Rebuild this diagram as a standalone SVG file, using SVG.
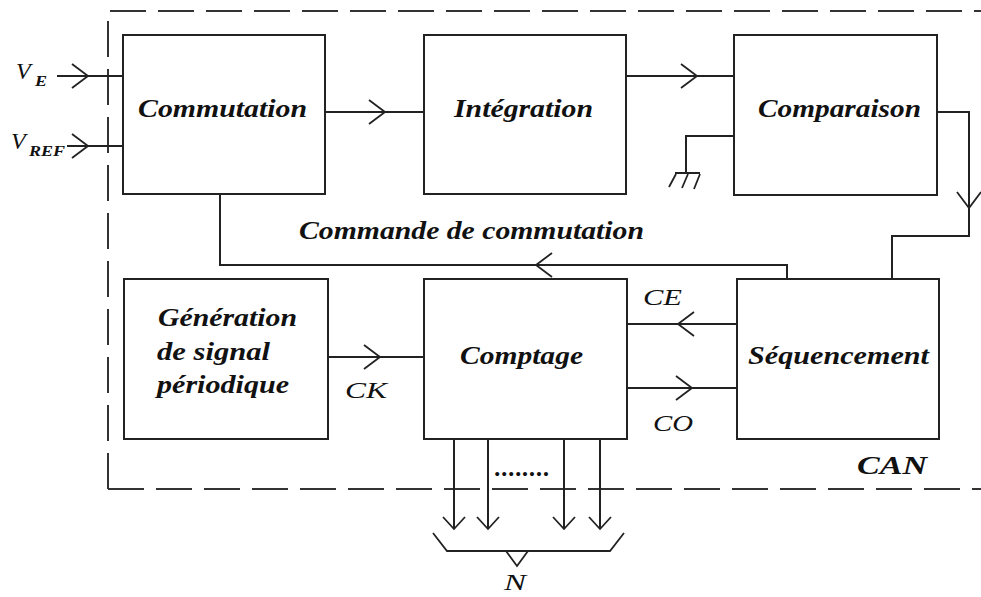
<svg xmlns="http://www.w3.org/2000/svg" xmlns:xlink="http://www.w3.org/1999/xlink" width="981" height="597" viewBox="0 0 981 597">
<style>
.box{fill:#fff;stroke:#222;stroke-width:2}
.ln{fill:none;stroke:#222;stroke-width:2}
.ch{fill:none;stroke:#222;stroke-width:1.8}
.bd{fill:none;stroke:#333;stroke-width:2;stroke-dasharray:36 12}
.lb{font-family:"Liberation Serif","Times New Roman",serif;font-style:italic;font-weight:bold;font-size:25px;fill:#111}
.it{font-family:"Liberation Serif","Times New Roman",serif;font-style:italic;font-size:24px;fill:#111}
.sub{font-family:"Liberation Serif","Times New Roman",serif;font-style:italic;font-weight:bold;font-size:15px;fill:#111}
</style>
<defs>
<path id="chev" class="ch" d="M-16,-12 L0,0 L-16,12"/>
<path id="chevs" class="ch" d="M-12,-11 L0,0 L-12,11"/>
</defs>
<rect width="981" height="597" fill="#fff"/>
<g id="border">
<path class="bd" d="M108,489 V11 H981"/>
<path class="bd" d="M108,489 H981"/>
<text class="lb" x="857" y="474" font-size="27" textLength="70" lengthAdjust="spacingAndGlyphs">CAN</text>
</g>
<g id="connectors">
<path class="ln" d="M57,76 H123"/>
<use href="#chev" transform="translate(88,76)"/>
<path class="ln" d="M67,146 H123"/>
<use href="#chev" transform="translate(88,146)"/>
<path class="ln" d="M325,112 H424"/>
<use href="#chev" transform="translate(385,112)"/>
<path class="ln" d="M626,76 H734"/>
<use href="#chev" transform="translate(697,76)"/>
<path class="ln" d="M734,136 H686 V173"/>
<path class="ln" d="M675,173 H700"/>
<path class="ch" d="M676,174 L669,187 M688,174 L682,188 M700,174 L694,189"/>
<path class="ln" d="M937,112 H969 V236 H892 V279"/>
<use href="#chev" transform="translate(969,208) rotate(90)"/>
<path class="ln" d="M787,279 V265 H220 V194"/>
<use href="#chev" transform="translate(536,265) rotate(180)"/>
<path class="ln" d="M328,357 H424"/>
<use href="#chev" transform="translate(380,357)"/>
<path class="ln" d="M737,324 H627"/>
<use href="#chev" transform="translate(678,324) rotate(180)"/>
<path class="ln" d="M627,388 H737"/>
<use href="#chev" transform="translate(692,388)"/>
<path class="ln" d="M454,439 V529 M488,439 V529 M564,439 V529 M600,439 V529"/>
<use href="#chevs" transform="translate(454,529) rotate(90)"/>
<use href="#chevs" transform="translate(488,529) rotate(90)"/>
<use href="#chevs" transform="translate(564,529) rotate(90)"/>
<use href="#chevs" transform="translate(600,529) rotate(90)"/>
<path class="ch" d="M433,533 L447,551 H610 L624,533"/>
<path class="ch" d="M506,551 L517,566 L528,551"/>
</g>
<g id="labels">
<text class="it" x="16" y="79" font-size="27">V</text>
<text class="sub" x="35" y="86" textLength="12" lengthAdjust="spacingAndGlyphs">E</text>
<text class="it" x="11" y="149" font-size="27">V</text>
<text class="sub" x="29" y="156" textLength="36" lengthAdjust="spacingAndGlyphs">REF</text>
<text class="lb" x="299" y="239" textLength="345" lengthAdjust="spacingAndGlyphs">Commande de commutation</text>
<text class="it" x="345" y="398" textLength="42" lengthAdjust="spacingAndGlyphs">CK</text>
<text class="it" x="643" y="305" textLength="39" lengthAdjust="spacingAndGlyphs">CE</text>
<text class="it" x="653" y="431" textLength="40" lengthAdjust="spacingAndGlyphs">CO</text>
<text class="lb" x="495" y="476" font-size="20" textLength="55" lengthAdjust="spacing">........</text>
<text class="it" x="504" y="590" font-size="23" textLength="22" lengthAdjust="spacingAndGlyphs">N</text>
</g>
<g id="commutation">
<rect class="box" x="123" y="35" width="202" height="159"/>
<text class="lb" x="138" y="117" textLength="169" lengthAdjust="spacingAndGlyphs">Commutation</text>
</g>
<g id="integration">
<rect class="box" x="424" y="35" width="202" height="159"/>
<text class="lb" x="454" y="117" textLength="139" lengthAdjust="spacingAndGlyphs">Intégration</text>
</g>
<g id="comparaison">
<rect class="box" x="734" y="35" width="203" height="160"/>
<text class="lb" x="758" y="117" textLength="163" lengthAdjust="spacingAndGlyphs">Comparaison</text>
</g>
<g id="generation">
<rect class="box" x="124" y="279" width="204" height="160"/>
<text class="lb" x="158" y="326" textLength="139" lengthAdjust="spacingAndGlyphs">Génération</text>
<text class="lb" x="157" y="360" textLength="113" lengthAdjust="spacingAndGlyphs">de signal</text>
<text class="lb" x="157" y="393" textLength="132" lengthAdjust="spacingAndGlyphs">périodique</text>
</g>
<g id="comptage">
<rect class="box" x="424" y="279" width="203" height="160"/>
<text class="lb" x="460" y="364" textLength="123" lengthAdjust="spacingAndGlyphs">Comptage</text>
</g>
<g id="sequencement">
<rect class="box" x="737" y="279" width="202" height="160"/>
<text class="lb" x="748" y="364" textLength="181" lengthAdjust="spacingAndGlyphs">Séquencement</text>
</g>
</svg>
